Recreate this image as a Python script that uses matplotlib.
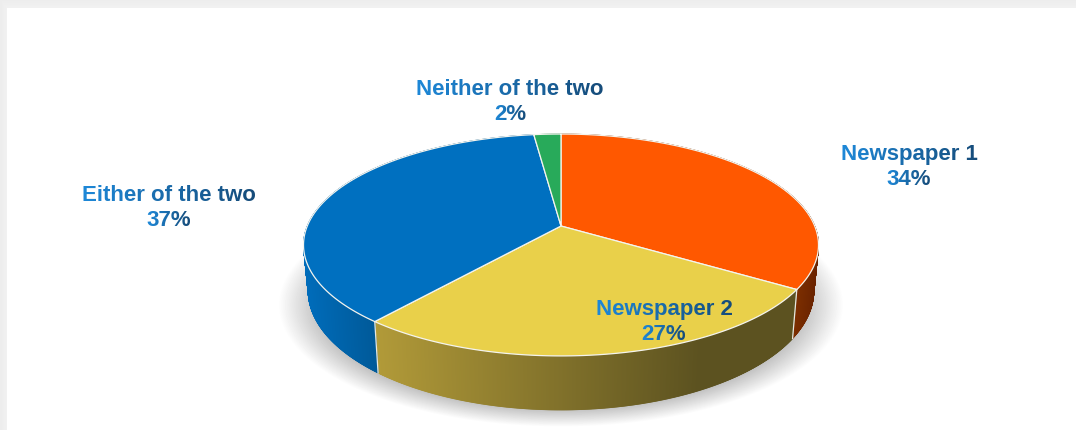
import numpy as np
import matplotlib
matplotlib.use('Agg')
import matplotlib.pyplot as plt
from matplotlib.collections import PolyCollection
from matplotlib.patches import Polygon

labels = ['Newspaper 1', 'Newspaper 2', 'Either of the two', 'Neither of the two']
shares = [34, 27, 37, 2]
label_xy = [(909, 167), (664, 322), (169, 208), (510, 102)]
top_colors = ['#ff5800', '#e9d04a', '#0070c0', '#28aa5a']

# side wall colours, left end and right end of the gradient
side_left = [(130, 50, 0), (196, 170, 62), (0, 108, 186), (30, 130, 70)]
side_right = [(104, 34, 0), (92, 82, 32), (0, 88, 150), (30, 130, 70)]

W, H = 1076, 431
cx, cy = 561, 227      # pie centre as seen in perspective
ax_x, ax_y = 253.7, 107.7
persp = -0.171
depth = 54


def project(frac):
    # clockwise from 12 o'clock, tilted circle
    t = 2 * np.pi * np.asarray(frac)
    x, y = np.sin(t), -np.cos(t)
    w = 1 + persp * y
    return cx + ax_x * x / w, cy + ax_y * y / w


def wall_bottom(px, py):
    # lower rim sits a bit narrower and the wall shrinks towards the back
    return cx + (px - cx) * 0.982, py + depth - (357 - py) * 0.075


def line_gradient(im, dpi):
    # each line of a label runs from bright blue to navy
    out = im.copy()
    a = im[:, :, 3]
    rows = np.where(a.max(axis=1) > 0)[0]
    if len(rows) == 0:
        return out, 0, 0
    mid = (rows[0] + rows[-1] + 1) // 2
    for part in (slice(0, mid), slice(mid, im.shape[0])):
        cols = np.where(a[part].max(axis=0) > 0)[0]
        if len(cols) < 2:
            continue
        f = np.clip((np.arange(im.shape[1]) - cols[0]) / (cols[-1] - cols[0]), 0, 1)
        for i, (c0, c1) in enumerate(zip((30, 136, 216), (22, 76, 122))):
            out[part][:, :, i] = (c0 + (c1 - c0) * f) / 255
    return out, 0, 0


fig = plt.figure(figsize=(W / 100, H / 100), dpi=100)
ax = fig.add_axes([0, 0, 1, 1])
ax.set_xlim(0, W)
ax.set_ylim(H, 0)
ax.axis('off')

# page background with the grey band on the top and left, plus the soft shadow
xx, yy = np.meshgrid(np.arange(W) + 0.5, np.arange(H) + 0.5)
bg = np.ones((H, W))
bg = np.minimum(bg, np.where(yy < 9, 0.925 + 0.02 * yy / 9, 1))
bg = np.minimum(bg, np.where(xx < 7, 0.925 + 0.02 * xx / 7, 1))
r = np.sqrt(((xx - cx) / 283) ** 2 + ((yy - 306) / 122) ** 2)
shade = np.clip((1.0 - r) / 0.16, 0, 1)
bg = bg - 0.27 * shade
ax.imshow(bg, cmap='gray', vmin=0, vmax=1, extent=(0, W, H, 0), aspect='auto', zorder=0)

# side wall
edges = np.concatenate([[0], np.cumsum(shares)]) / sum(shares)
for i in range(len(shares)):
    s = np.linspace(edges[i], edges[i + 1], max(int(shares[i] * 20), 6))
    px, py = project(s)
    bx, by = wall_bottom(px, py)
    quads = []
    cols = []
    c0 = np.array(side_left[i], dtype=float)
    c1 = np.array(side_right[i], dtype=float)
    xmin, xmax = 304, 700
    if i == 0:
        xmin, xmax = 790, 820
    elif i == 2:
        xmin, xmax = 304, 380
    for j in range(len(s) - 1):
        quads.append([(px[j], py[j]), (px[j + 1], py[j + 1]),
                      (bx[j + 1], by[j + 1]), (bx[j], by[j])])
        f = np.clip(((px[j] + px[j + 1]) / 2 - xmin) / (xmax - xmin), 0, 1)
        cols.append(tuple((c0 + (c1 - c0) * f) / 255))
    ax.add_collection(PolyCollection(quads, facecolors=cols, edgecolors=cols,
                                     linewidths=0.6, zorder=2))
    # light seam where two slices meet on the wall
    ex, ey = project(edges[i])
    if ey > 246:
        fx, fy = wall_bottom(ex, ey)
        ax.plot([ex, fx], [ey, fy], color='#e8e8e0', lw=0.9, zorder=3)

# top face
for i in range(len(shares)):
    s = np.linspace(edges[i], edges[i + 1], max(int(shares[i] * 20), 6))
    px, py = project(s)
    pts = np.column_stack([np.r_[cx, px], np.r_[cy, py]])
    ax.add_patch(Polygon(pts, closed=True, facecolor=top_colors[i], edgecolor='#f4f4ee',
                         linewidth=0.9, joinstyle='round', zorder=4))

for name, val, (tx, ty) in zip(labels, shares, label_xy):
    t = ax.text(tx, ty, f'{name}\n{val}%', ha='center', va='center', fontsize=16,
                family='Liberation Sans', fontweight='bold', color='#1c68a8',
                linespacing=1.2, zorder=6)
    t.set_agg_filter(line_gradient)

fig.savefig('out.png', dpi=100)
